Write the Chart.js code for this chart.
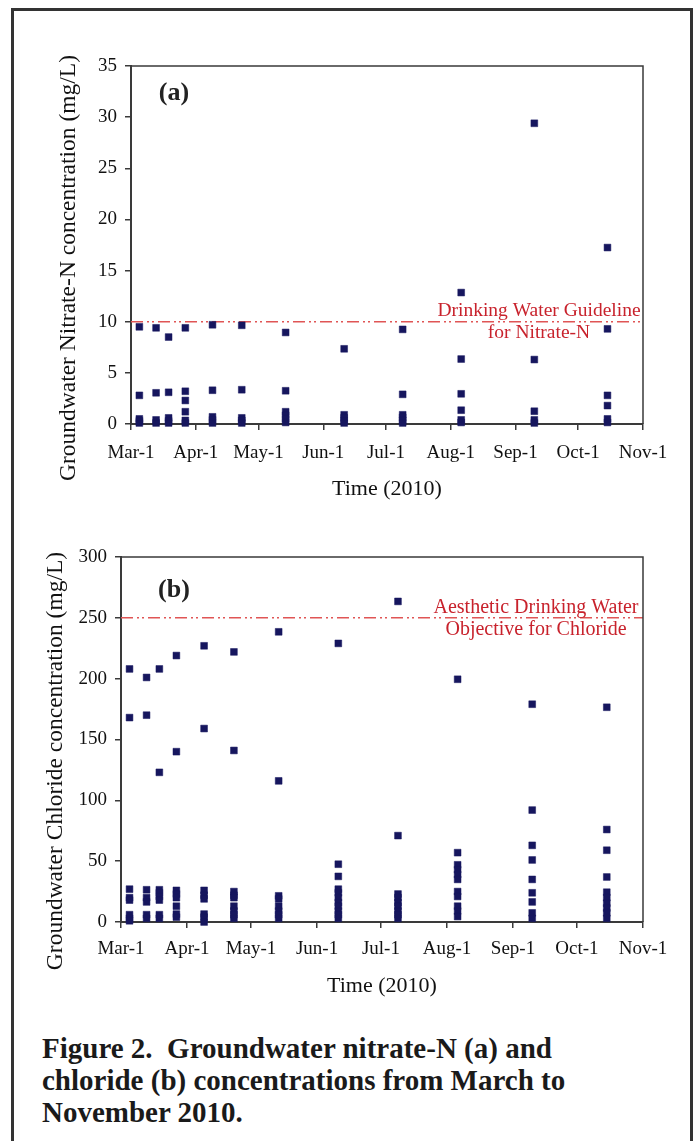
<!DOCTYPE html>
<html>
<head>
<meta charset="utf-8">
<script src="https://cdn.jsdelivr.net/npm/chart.js@4.4.1/dist/chart.umd.min.js"></script>
<style>
  html, body { margin: 0; padding: 0; background: #fff; width: 697px; height: 1141px; overflow: hidden; }
  #frame { position: absolute; left: 11px; top: 8px; width: 676px; height: 1200px; border: 3px solid #333; }
  canvas { position: absolute; left: 0; }
  #chartA { top: 0; }
  #chartB { top: 520px; }
  #caption { position: absolute; left: 42px; top: 1032px; font: bold 29px "Liberation Serif", "Times New Roman", serif; line-height: 32px; color: #1a1a1a; }
</style>
</head>
<body>
<div id="frame"></div>
<canvas id="chartA" width="697" height="510"></canvas>
<canvas id="chartB" width="697" height="488"></canvas>
<div id="caption">Figure 2.&nbsp; Groundwater nitrate-N (a) and<br>chloride (b) concentrations from March to<br>November 2010.</div>
<script>
// x axis = days since Mar-1 2010
const monthTickDays = [0, 31, 61, 92, 122, 153, 184, 214, 245];
const monthTickLabels = ['Mar-1', 'Apr-1', 'May-1', 'Jun-1', 'Jul-1', 'Aug-1', 'Sep-1', 'Oct-1', 'Nov-1'];
const sampleDays = [4, 12, 18, 26, 39, 53, 74, 102, 130, 158, 193, 228];

// nitrate-N (mg/L), one list per sampling day
const nitrate = [
  [9.5, 2.8, 0.5, 0.3, 0.1],
  [9.4, 3.05, 0.4, 0.1],
  [8.5, 3.1, 0.6, 0.3, 0.1],
  [9.4, 3.2, 2.3, 1.2, 0.35, 0.1],
  [9.7, 3.3, 0.7, 0.4, 0.1],
  [9.65, 3.35, 0.6, 0.35, 0.1],
  [8.95, 3.25, 1.2, 0.85, 0.5, 0.15],
  [7.35, 0.9, 0.6, 0.3, 0.1],
  [9.25, 2.9, 0.9, 0.65, 0.35, 0.1],
  [12.85, 6.35, 2.95, 1.35, 0.4, 0.15],
  [29.4, 6.3, 1.25, 0.4, 0.1],
  [17.25, 9.3, 2.8, 1.8, 0.5, 0.15]
];

// chloride (mg/L), one list per sampling day
const chloride = [
  [208, 168, 27, 20, 18, 6, 3, 1],
  [201, 170, 26.5, 20, 16.5, 6, 3],
  [208, 123, 26.5, 24, 21, 18, 6, 3],
  [219, 140, 26, 23, 20, 13, 6.5, 4],
  [227, 159, 26, 22, 19, 6.5, 4, 0],
  [222, 141, 25, 22, 20, 13, 9, 6, 3],
  [238.5, 116, 21.5, 19, 13, 9, 6, 3],
  [229, 47.5, 37.5, 27, 24, 20, 16, 13, 9, 6, 3],
  [263.5, 71, 23, 20, 16, 13, 9, 6, 3],
  [199.5, 57, 47, 43, 39, 35, 25, 21, 13, 9, 4.5],
  [179, 92, 63, 51, 35, 24, 16.5, 7.5, 3],
  [176.5, 76, 59, 37, 24.5, 20, 15.5, 11.5, 7.5, 3]
];

const nitrateGuideline = 10;
const chlorideObjective = 250;

const SERIF = '"Liberation Serif", "Times New Roman", serif';
const NAVY = '#16165e';
const RED_LINE = '#e05555';
const RED_TEXT = '#c8222c';

function toPoints(lists) {
  return sampleDays.flatMap((d, i) => lists[i].map(v => ({ x: d, y: v })));
}

// frame, y title, panel letter and guideline note
const extras = {
  id: 'extras',
  afterDraw(chart, args, o) {
    const { ctx, chartArea: a, scales } = chart;
    ctx.save();
    ctx.strokeStyle = '#3a3a3a';
    ctx.lineWidth = 1.5;
    ctx.beginPath();
    ctx.moveTo(a.left, a.top);
    ctx.lineTo(a.right, a.top);
    ctx.lineTo(a.right, a.bottom);
    ctx.stroke();

    ctx.fillStyle = '#111';
    ctx.font = '23.5px ' + SERIF;
    ctx.textAlign = 'center';
    ctx.textBaseline = 'alphabetic';
    ctx.translate(a.left - o.titleDx, (a.top + a.bottom) / 2 + o.titleDy);
    ctx.rotate(-Math.PI / 2);
    ctx.fillText(o.yTitle, 0, 0);
    ctx.restore();

    ctx.save();
    ctx.fillStyle = '#222';
    ctx.font = 'bold 26px ' + SERIF;
    ctx.textAlign = 'center';
    ctx.textBaseline = 'middle';
    ctx.fillText(o.panel, a.left + o.panelDx, a.top + o.panelDy);

    const yp = scales.y.getPixelForValue(o.noteValue);
    ctx.fillStyle = RED_TEXT;
    ctx.font = o.noteSize + 'px ' + SERIF;
    ctx.fillText(o.note[0], a.right - o.noteDx, yp + o.noteDy[0]);
    ctx.fillText(o.note[1], a.right - o.noteDx, yp + o.noteDy[1]);
    ctx.restore();
  }
};

function makeChart(id, lists, yMax, yStep, guide, yAxisWidth, padTop, tickPad, titlePad, extraOpts) {
  return new Chart(document.getElementById(id), {
    type: 'scatter',
    data: {
      datasets: [
        {
          data: toPoints(lists),
          pointStyle: 'rect',
          pointRadius: 4.8,
          backgroundColor: NAVY,
          borderColor: NAVY,
          borderWidth: 0.5,
          clip: false
        },
        {
          type: 'line',
          data: [{ x: 0, y: guide }, { x: 245, y: guide }],
          borderColor: RED_LINE,
          borderWidth: 1.5,
          borderDash: [12, 4, 2, 3, 2, 4],
          pointRadius: 0
        }
      ]
    },
    options: {
      responsive: false,
      animation: false,
      layout: { padding: { left: 0, top: padTop, right: 54, bottom: 0 } },
      plugins: { legend: { display: false }, tooltip: { enabled: false }, extras: extraOpts },
      scales: {
        x: {
          type: 'linear',
          min: 0,
          max: 245,
          afterFit: s => { s.height = 86; },
          afterBuildTicks: s => { s.ticks = monthTickDays.map(v => ({ value: v })); },
          border: { color: '#3a3a3a', width: 2 },
          grid: { drawOnChartArea: false, tickLength: 6, color: '#3a3a3a', lineWidth: 1.5 },
          ticks: {
            padding: tickPad,
            color: '#111',
            font: { family: SERIF, size: 19 },
            maxRotation: 0,
            autoSkip: false,
            callback: v => monthTickLabels[monthTickDays.indexOf(v)]
          },
          title: {
            display: true,
            text: 'Time (2010)',
            color: '#111',
            font: { family: SERIF, size: 22 },
            padding: { top: 0, bottom: titlePad }
          }
        },
        y: {
          min: 0,
          max: yMax,
          afterFit: s => { s.width = yAxisWidth; },
          border: { color: '#3a3a3a', width: 2 },
          grid: { drawOnChartArea: false, tickLength: 6, color: '#3a3a3a', lineWidth: 1.5 },
          ticks: {
            stepSize: yStep,
            padding: 8,
            color: '#111',
            font: { family: SERIF, size: 19 }
          }
        }
      }
    },
    plugins: [extras]
  });
}

makeChart('chartA', nitrate, 35, 5, nitrateGuideline, 131, 66, 12, 8, {
  yTitle: 'Groundwater Nitrate-N concentration (mg/L)',
  titleDx: 56, titleDy: 23,
  panel: '(a)', panelDx: 43, panelDy: 27,
  note: ['Drinking Water Guideline', 'for Nitrate-N'], noteSize: 19.5,
  noteValue: nitrateGuideline, noteDx: 104, noteDy: [-11, 11]
});

makeChart('chartB', chloride, 300, 50, chlorideObjective, 121, 37, 10, 9, {
  yTitle: 'Groundwater Chloride concentration (mg/L)',
  titleDx: 59, titleDy: 21.5,
  panel: '(b)', panelDx: 53, panelDy: 33,
  note: ['Aesthetic Drinking Water', 'Objective for Chloride'], noteSize: 20,
  noteValue: chlorideObjective, noteDx: 107, noteDy: [-10, 12]
});
</script>
</body>
</html>
